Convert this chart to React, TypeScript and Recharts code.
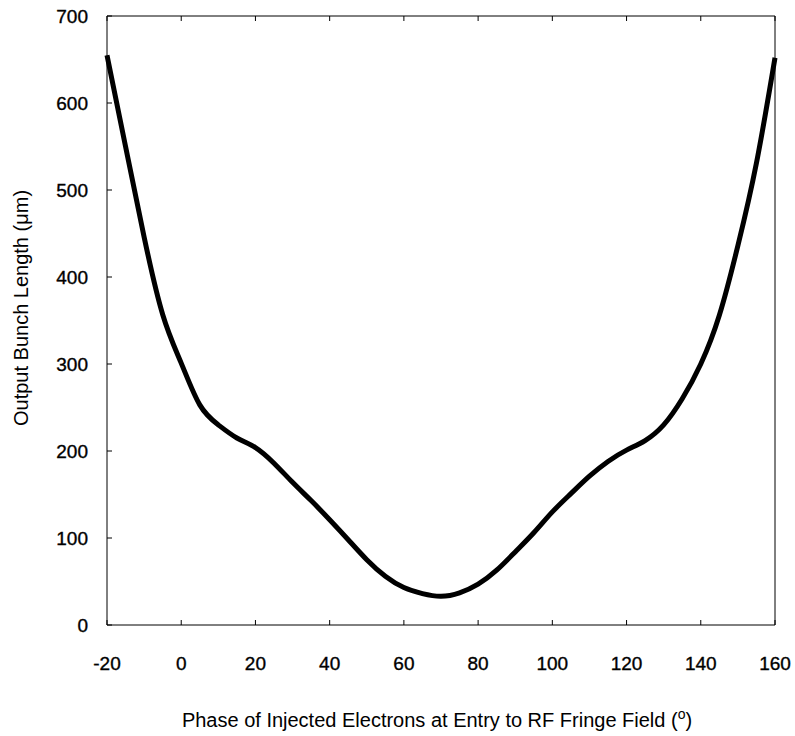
import { LineChart, Line, XAxis, YAxis, Label } from 'recharts'

// injection phase (degrees) and resulting bunch length (µm)
const phase = [
  -20, -15, -10, -5, 0, 5, 10, 15, 20, 25, 30, 35, 40, 45, 50, 55, 60, 65, 70, 75, 80, 85, 90, 95, 100, 105,
  110, 115, 120, 125, 130, 135, 140, 145, 150, 155, 160,
]
const bunchLength = [
  655, 550, 446, 357, 301, 253, 230, 215, 204, 186, 164, 143, 121, 98, 75, 56, 43, 36, 33, 37, 47, 63, 84, 106,
  130, 151, 171, 188, 201, 212, 230, 260, 300, 356, 436, 531, 652,
]

const xTicks = [-20, 0, 20, 40, 60, 80, 100, 120, 140, 160]
const yTicks = [0, 100, 200, 300, 400, 500, 600, 700]

const data = phase.map((p, i) => ({ phase: p, length: bunchLength[i] }))

const FONT = '"Liberation Sans", Arial, Helvetica, sans-serif'
const tickStyle = { fontSize: 19, fontFamily: FONT, fill: '#000', stroke: '#000', strokeWidth: 0.35 }
const blank = () => ''

export default function App() {
  return (
    <div style={{ position: 'absolute', left: 0, top: 0, background: '#fff' }}>
      <LineChart width={795} height={736} data={data} margin={{ top: 15, right: 19, bottom: 0, left: 0 }}>
        <XAxis
          xAxisId="bottom"
          dataKey="phase"
          type="number"
          domain={[-20, 160]}
          ticks={xTicks}
          height={111}
          tickSize={-5}
          tickMargin={37}
          axisLine={{ stroke: '#000' }}
          tickLine={{ stroke: '#000' }}
          tick={tickStyle}
        >
          <Label
            content={({ viewBox }: any) => (
              <text
                x={437}
                y={viewBox.y + 102}
                textAnchor="middle"
                fontSize={20}
                fontFamily={FONT}
                fill="#000"
              >
                Phase of Injected Electrons at Entry to RF Fringe Field (
                <tspan fontSize={14} dy={-8}>o</tspan>
                <tspan dy={8}>)</tspan>
              </text>
            )}
          />
        </XAxis>
        <XAxis
          xAxisId="top"
          orientation="top"
          dataKey="phase"
          type="number"
          domain={[-20, 160]}
          ticks={xTicks}
          height={1}
          tickSize={-5}
          tickFormatter={blank}
          axisLine={{ stroke: '#000' }}
          tickLine={{ stroke: '#000' }}
        />
        <YAxis
          yAxisId="left"
          type="number"
          domain={[0, 700]}
          ticks={yTicks}
          width={107}
          tickSize={-5}
          tickMargin={24}
          axisLine={{ stroke: '#000' }}
          tickLine={{ stroke: '#000' }}
          tick={tickStyle}
        >
          <Label
            content={() => (
              <text
                x={0}
                y={0}
                transform="translate(28 308) rotate(-90)"
                textAnchor="middle"
                fontSize={20}
                fontFamily={FONT}
                fill="#000"
              >
                Output Bunch Length (μm)
              </text>
            )}
          />
        </YAxis>
        <YAxis
          yAxisId="right"
          orientation="right"
          type="number"
          domain={[0, 700]}
          ticks={yTicks}
          width={1}
          tickSize={-5}
          tickFormatter={blank}
          axisLine={{ stroke: '#000' }}
          tickLine={{ stroke: '#000' }}
        />
        <Line
          xAxisId="bottom"
          yAxisId="left"
          dataKey="length"
          type="natural"
          stroke="#000"
          strokeWidth={5}
          dot={false}
          isAnimationActive={false}
        />
      </LineChart>
    </div>
  )
}
